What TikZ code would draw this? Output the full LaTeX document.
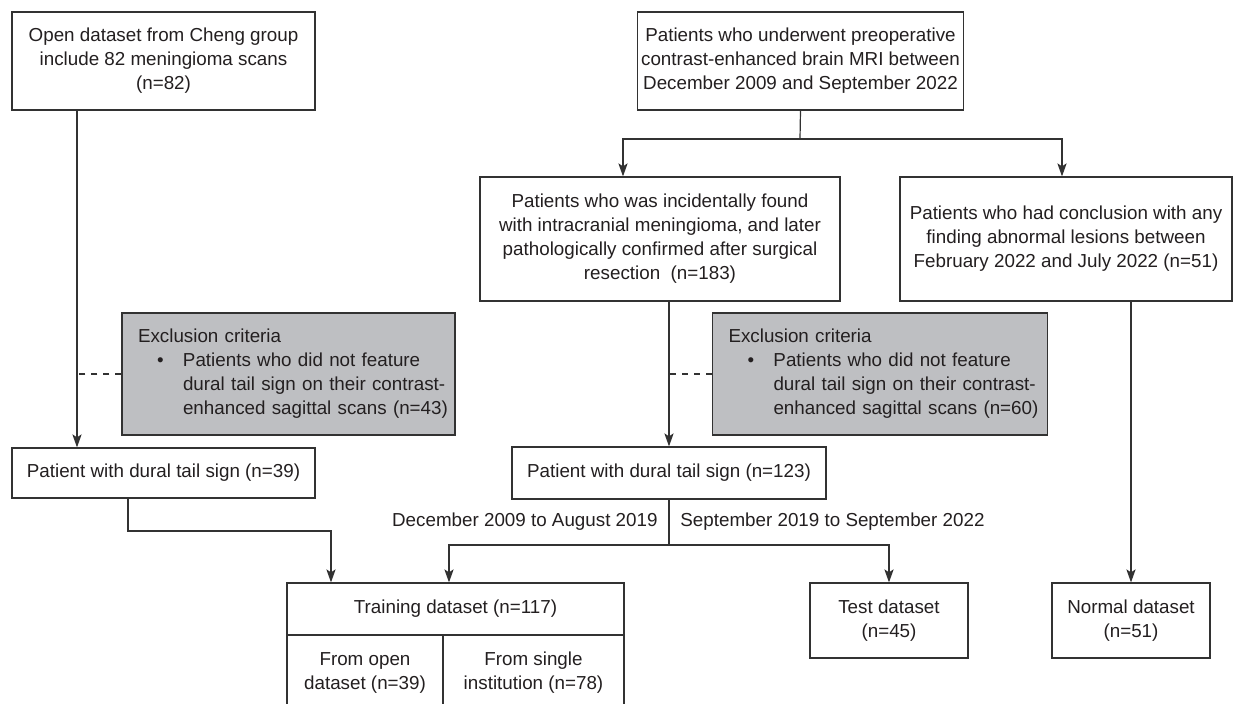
\documentclass[tikz,border=0pt]{standalone}
\usepackage{fontspec}
\setmainfont{Liberation Sans}
\usepackage{tikz}
\usetikzlibrary{positioning, arrows.meta, calc}
\definecolor{linegray}{RGB}{50,50,50}
\definecolor{exclgray}{RGB}{190,191,194}
\definecolor{textgray}{RGB}{35,31,32}

\newcommand{\exbul}[1]{\hspace*{9.5pt}\makebox[13pt][l]{\textbullet}\mbox{#1}}
\newcommand{\exind}[1]{\hspace*{22.5pt}\mbox{#1}}

\begin{document}
\begin{tikzpicture}[x=0.5pt, y=-0.5pt,
  box/.style={rectangle, draw=linegray, line width=0.6pt, fill=white,
              align=center, inner sep=2pt, text=textgray,
              font=\fontsize{9.4}{12}\selectfont},
  excl/.style={box, fill=exclgray, align=left, inner xsep=8pt,
               minimum height=61pt},
  arr/.style={-{Stealth[length=6.5pt, width=4.6pt, inset=1.5pt]},
              line width=0.6pt, draw=linegray},
  ln/.style={line width=0.6pt, draw=linegray},
  dashln/.style={line width=0.6pt, draw=linegray, dashed},
  lbl/.style={font=\fontsize{9.4}{12}\selectfont, text=textgray, inner sep=0pt}
]
\useasboundingbox (0,0) rectangle (1233,704);

% Sources
\node[box, minimum width=151.5pt, minimum height=49pt] (open) at (163.5,61)
  {Open dataset from Cheng group\\include 82 meningioma scans\\(n=82)};
\node[box, minimum width=147.5pt, minimum height=49pt] (mri) at (800.5,61)
  {Patients who underwent preoperative\\contrast-enhanced brain MRI between\\December 2009 and September 2022};

% Second level
\node[box, minimum width=180pt, minimum height=62pt] (incid) at (660,239)
  {Patients who was incidentally found\\with intracranial meningioma, and later\\pathologically confirmed after surgical\\resection\ \ (n=183)};
\node[box, minimum width=166pt, minimum height=62pt] (abn) at (1066,239)
  {Patients who had conclusion with any\\finding abnormal lesions between\\February 2022 and July 2022 (n=51)};

% Exclusions
\node[excl, text width=150.5pt] (excl1) at (288.5,374)
  {Exclusion criteria\\\exbul{Patients who did not feature}\\\exind{dural tail sign on their contrast-}\\\exind{enhanced sagittal scans (n=43)}};
\node[excl, text width=151.5pt] (excl2) at (880,374)
  {Exclusion criteria\\\exbul{Patients who did not feature}\\\exind{dural tail sign on their contrast-}\\\exind{enhanced sagittal scans (n=60)}};

% Dural tail sign
\node[box, minimum width=151.5pt, minimum height=25pt] (pos39) at (163.5,473)
  {Patient with dural tail sign (n=39)};
\node[box, minimum width=157pt, minimum height=26pt] (pos123) at (669,473)
  {Patient with dural tail sign (n=123)};

% Datasets
\node[box, minimum width=168.5pt, minimum height=26pt] (train) at (455.5,609)
  {Training dataset (n=117)};
\node[box, minimum width=78pt, minimum height=38pt] (trainopen) at (365,673)
  {From open\\dataset (n=39)};
\node[box, minimum width=90.5pt, minimum height=38pt] (traininst) at (533.5,673)
  {From single\\institution (n=78)};
\node[box, minimum width=79pt, minimum height=37.5pt] (test) at (889,620.5)
  {Test dataset\\(n=45)};
\node[box, minimum width=79pt, minimum height=37.5pt] (normal) at (1131,620.5)
  {Normal dataset\\(n=51)};

% Period labels
\node[lbl, anchor=east] (early) at (658,522) {December 2009 to August 2019};
\node[lbl, anchor=west] (late) at (680,522) {September 2019 to September 2022};

% Junctions
\coordinate (colL) at (77,0);
\coordinate (colJ) at (128,531);
\coordinate (tA) at (331,0);
\coordinate (tB) at (449,0);
\coordinate (split) at (800,139);
\coordinate (cA) at (623,0);
\coordinate (cB) at (1062,0);
\coordinate (dsplit) at (669,545);

% Left branch
\draw[arr] (open.south -| colL) -- (pos39.north -| colL);
\draw[dashln] (excl1.west) -- (excl1.west -| colL);
\draw[arr] (pos39.south -| colJ) -- (colJ) -| (train.north -| tA);

% Right branch
\draw[ln] (mri.south) -- (split);
\draw[arr] (split) -| (incid.north -| cA);
\draw[arr] (split) -| (abn.north -| cB);
\draw[arr] (incid.south -| pos123.north) -- (pos123.north);
\draw[dashln] (excl2.west) -- (excl2.west -| pos123.north);
\draw[arr] (abn.south -| normal.north) -- (normal.north);

% Split by period
\draw[ln] (pos123.south) -- (dsplit);
\draw[arr] (dsplit) -| (train.north -| tB);
\draw[arr] (dsplit) -| (test.north);

\end{tikzpicture}
\end{document}
